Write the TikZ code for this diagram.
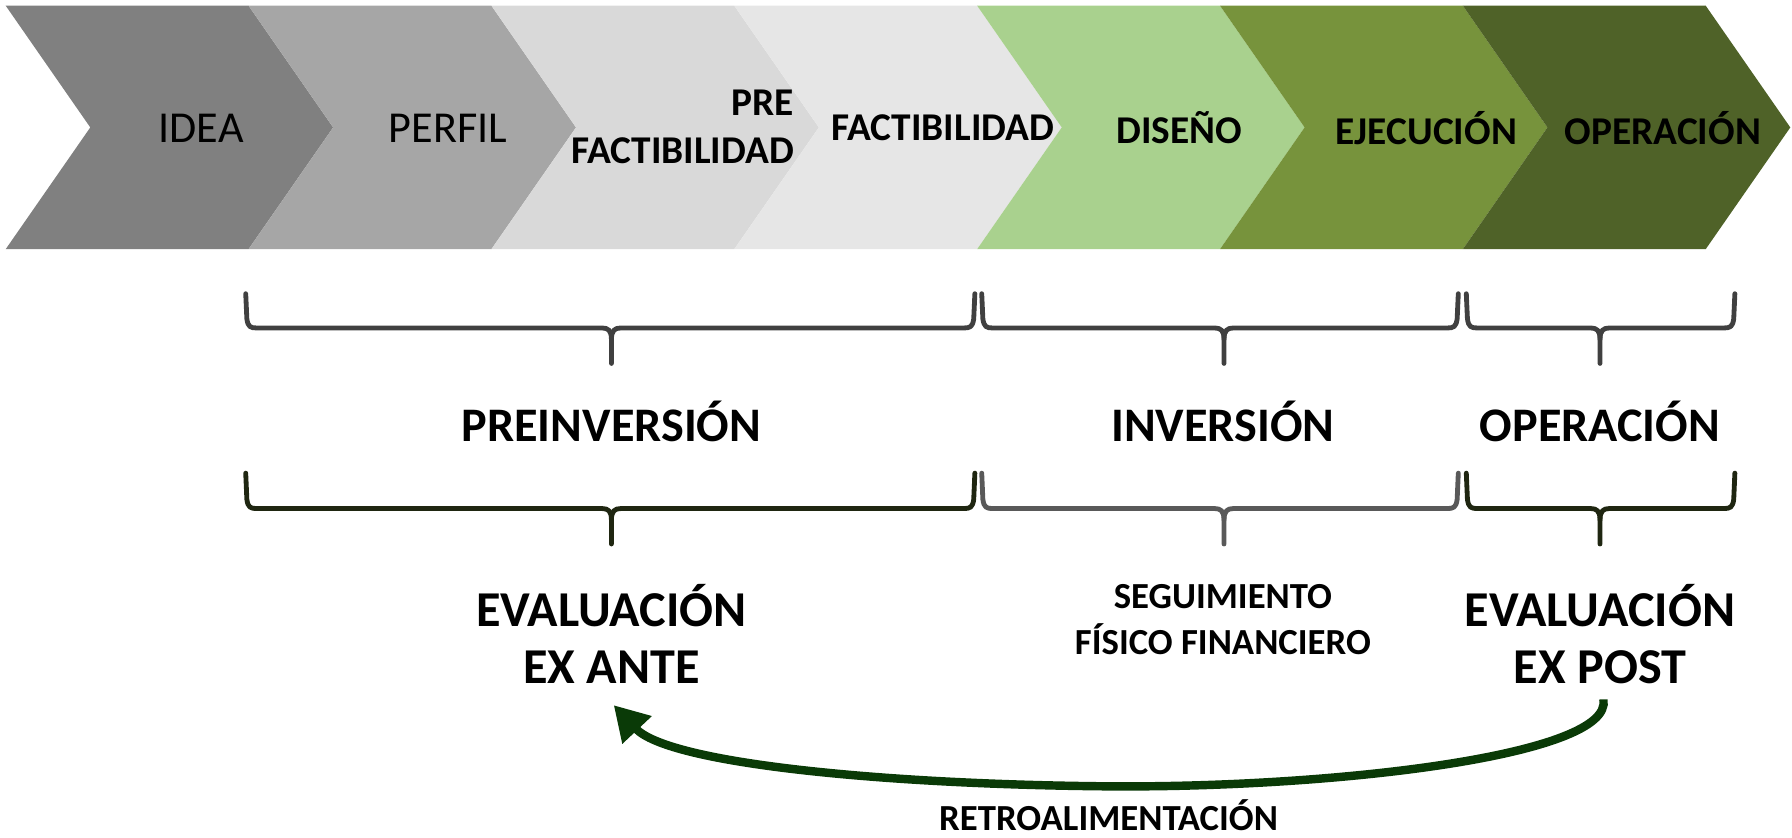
\documentclass[tikz,border=0pt]{standalone}
\usepackage{fontspec}
\setmainfont{Carlito}
\usetikzlibrary{arrows.meta}
\definecolor{cIdea}{HTML}{808080}
\definecolor{cPerf}{HTML}{A6A6A6}
\definecolor{cPre}{HTML}{D9D9D9}
\definecolor{cFac}{HTML}{E6E6E6}
\definecolor{cDis}{HTML}{A9D18E}
\definecolor{cEje}{HTML}{77933C}
\definecolor{cOpe}{HTML}{4F6228}
\definecolor{bGray}{HTML}{404040}
\definecolor{bGray2}{HTML}{595959}
\definecolor{bDark}{HTML}{1F2611}
\definecolor{aGreen}{HTML}{0A3A07}
\newcommand{\chevshape}[2]{%
  \fill[#2] (#1,5) -- ({#1+212.5},5) -- ({#1+286.5},111.5) -- ({#1+212.5},218) -- (#1,218) -- ({#1+74},111.5) -- cycle;}
\newcommand{\ofbrace}[7]{%
  \draw[brc,#7] (#1,#4) -- ({#1+1},{#5-8}) .. controls ({#1+2},{#5-1}) and ({#1+4},#5) .. ({#1+10},#5)
     -- ({#3-8},#5) .. controls ({#3-3},#5) and (#3,{#5+2}) .. (#3,{#5+10}) -- (#3,#6);
  \draw[brc,#7] (#2,#4) -- ({#2-1},{#5-8}) .. controls ({#2-2},{#5-1}) and ({#2-4},#5) .. ({#2-10},#5)
     -- ({#3+8},#5) .. controls ({#3+3},#5) and (#3,{#5+2}) .. (#3,{#5+10});}
\tikzset{
  brc/.style={line width=2.4pt, line cap=round, line join=round},
  reg/.style={inner sep=0pt, font=\fontsize{22}{26}\selectfont},
  stg/.style={inner sep=0pt, font=\bfseries\fontsize{19.6}{24}\selectfont},
  phase/.style={inner sep=0pt, font=\bfseries\fontsize{24}{28}\selectfont},
  evl/.style={inner sep=0pt, align=center, font=\bfseries\fontsize{25}{28.5}\selectfont},
  sml/.style={inner sep=0pt, align=center, font=\bfseries\fontsize{18.3}{22.8}\selectfont},
  fb/.style={draw=aGreen, line width=4.2pt, -{Triangle[length=17pt,width=19pt]}}
}
\begin{document}
\begin{tikzpicture}[x=0.02cm, y=-0.02cm]
\useasboundingbox (0,0) rectangle (1568,733);
% chevrons
\chevshape{5}{cIdea}
\chevshape{217.5}{cPerf}
\chevshape{430}{cPre}
\chevshape{642.5}{cFac}
\chevshape{855}{cDis}
\chevshape{1067.5}{cEje}
\chevshape{1280}{cOpe}
\node[reg] (idea) at (176,112) {IDEA};
\node[reg] (perfil) at (392,112) {PERFIL};
\node[stg, align=right, anchor=east] (prefac) at (695,111) {PRE\\FACTIBILIDAD};
\node[stg] (fac) at (825,112) {FACTIBILIDAD};
\node[stg] (dis) at (1032,112) {DISEÑO};
\node[stg] (eje) at (1248,112) {EJECUCIÓN};
\node[stg] (ope) at (1455,112) {OPERACIÓN};
% top braces
\ofbrace{215}{853}{535}{257}{287}{318}{bGray}
\ofbrace{859}{1276}{1071}{257}{287}{318}{bGray}
\ofbrace{1283}{1518}{1400}{257}{287}{318}{bGray}
\node[phase] (preinv) at (535,369) {PREINVERSIÓN};
\node[phase] (inv) at (1070,369) {INVERSIÓN};
\node[phase] (oper) at (1400,369) {OPERACIÓN};
% bottom braces
\ofbrace{215}{853}{535}{414}{445}{476}{bDark}
\ofbrace{859}{1276}{1071}{414}{445}{476}{bGray2}
\ofbrace{1283}{1518}{1400}{414}{445}{476}{bDark}
\node[evl] (exante) at (535,555) {EVALUACIÓN\\EX ANTE};
\node[sml] (seg) at (1070,542) {SEGUIMIENTO\\FÍSICO FINANCIERO};
\node[evl] (expost) at (1400,555) {EVALUACIÓN\\EX POST};
% feedback arrow
\coordinate (fbs) at (1403,612);
\coordinate (fbe) at (537,617);
\draw[fb] (fbs) .. controls (1412,662) and (1160,690) .. (965,688)
   .. controls (770,686) and (585,668) .. (fbe);
\node[inner sep=0pt, anchor=base, font=\bfseries\fontsize{18.3}{22}\selectfont] (retro) at (970,727) {RETROALIMENTACIÓN};
\end{tikzpicture}
\end{document}
